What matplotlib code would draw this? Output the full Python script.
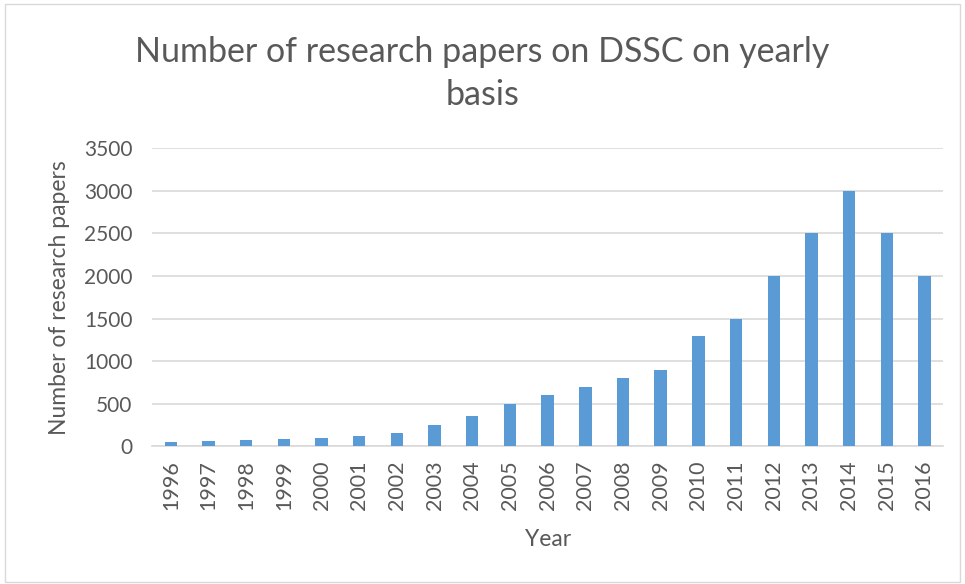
import matplotlib.pyplot as plt
import numpy as np

plt.rcParams['font.family'] = ['Lato', 'DejaVu Sans']

years = [str(y) for y in range(1996, 2017)]
papers = [50, 60, 70, 80, 100, 125, 150, 250, 350, 500, 600, 700,
          800, 900, 1300, 1500, 2000, 2500, 3000, 2500, 2000]

text_col = '#595959'
bar_col = '#5B9BD5'
grid_col = '#D9D9D9'

fig = plt.figure(figsize=(9.65, 5.84), dpi=100)
# light frame around the whole chart
fig.patches.append(plt.Rectangle((0.005, 0.004), 0.99, 0.99, transform=fig.transFigure,
                                 fill=False, edgecolor='#D9D9D9', linewidth=1))

ax = fig.add_axes([0.1575, 0.236, 0.82, 0.51])
x = np.arange(len(years))
ax.bar(x, papers, width=0.33, color=bar_col, zorder=3)

ax.set_xlim(-0.5, len(years) - 0.5)
ax.set_ylim(0, 3500)
ax.set_yticks(range(0, 3501, 500))
ax.set_xticks(x)
ax.set_xticklabels(years, rotation=90)
ax.yaxis.grid(True, color=grid_col, linewidth=1.2, zorder=0)
ax.set_axisbelow(True)

for s in ['top', 'right', 'left']:
    ax.spines[s].set_visible(False)
ax.spines['bottom'].set_color(grid_col)
ax.spines['bottom'].set_linewidth(1.2)
ax.tick_params(length=0, colors=text_col)
ax.tick_params(axis='x', labelsize=15.5, pad=10)
ax.tick_params(axis='y', labelsize=15, pad=14)

ax.set_xlabel('Year', fontsize=16.5, color=text_col, labelpad=14)
ax.set_ylabel('Number of research papers', fontsize=16.5, color=text_col, labelpad=10)

fig.text(0.5, 0.874, 'Number of research papers on DSSC on yearly\nbasis',
         ha='center', va='center', fontsize=24.5, color=text_col, linespacing=1.45)

fig.savefig('out.png', dpi=100)
